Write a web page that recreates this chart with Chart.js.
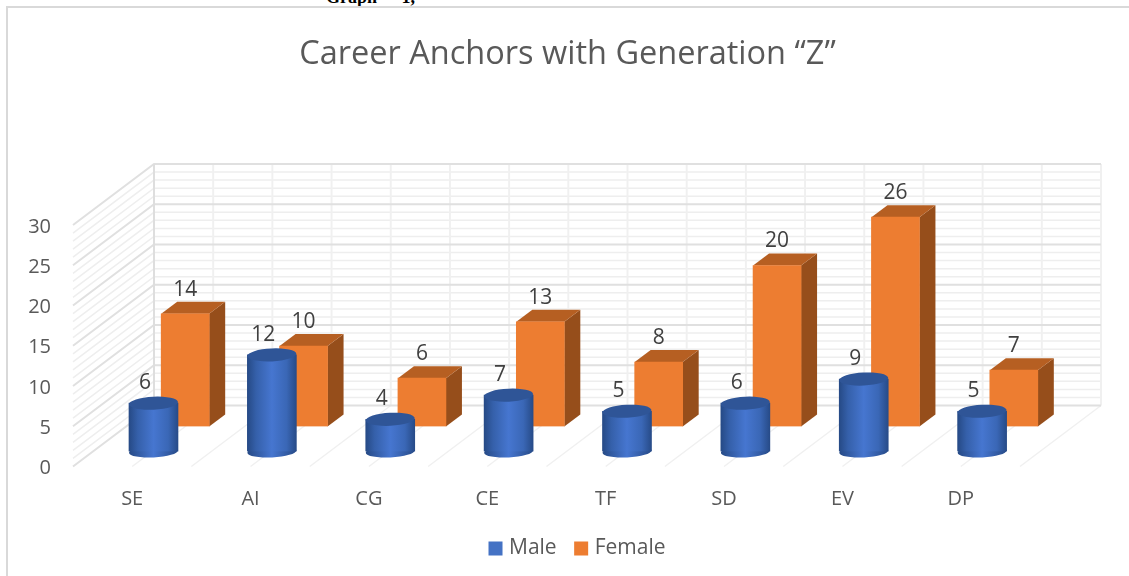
<!DOCTYPE html>
<html>
<head>
<meta charset="utf-8">
<style>
html,body{margin:0;padding:0;background:#fff;overflow:hidden}
#wrap{position:relative;width:1129px;height:576px;overflow:hidden}
#frame{position:absolute;left:6px;top:6px;width:1140px;height:600px;border-left:2px solid #d9d9d9;border-top:2px solid #d9d9d9;box-sizing:border-box;pointer-events:none}
#cap{position:absolute;left:326px;top:-13px;font:bold 18px "Liberation Serif",serif;color:#000;word-spacing:20px}
canvas{position:absolute;left:0;top:0}
</style>
<script src="https://cdn.jsdelivr.net/npm/chart.js@4"></script>
</head>
<body>
<div id="wrap">
<div id="cap">Graph 1,</div>
<div id="frame"></div>
<canvas id="c" width="1129" height="576"></canvas>
</div>
<script>
const categories = ["SE","AI","CG","CE","TF","SD","EV","DP"];
const male = [6,12,4,7,5,6,9,5];
const female = [14,10,6,13,8,20,26,7];
const FONT = '"Open Sans", sans-serif';
const maleColor = '#4472C4', femaleColor = '#ED7D31';

const depthX = 81, depthY = 61;          // wall depth
const femaleShift = {x:53, y:-40};
const maleShift = {x:21.3, y:-15};
const boxD = {x:16, y:12};

const cyl = function(ctx){
  if (ctx.type !== 'data' || !ctx.chart.scales.x) return maleColor;
  const c = ctx.chart.scales.x.getPixelForTick(ctx.dataIndex);
  if (!isFinite(c)) return maleColor;
  const g = ctx.chart.ctx.createLinearGradient(c-24.5,0,c+24.5,0);
  g.addColorStop(0,'#264a86');g.addColorStop(0.18,'#3560aa');
  g.addColorStop(0.5,'#4676d0');g.addColorStop(0.8,'#3a67b6');g.addColorStop(1,'#274b88');
  return g;
};

const scene = {
  id:'scene',
  afterLayout(chart){
    const l = chart.legend, t = chart.titleBlock;
    if(l){l.left += 65; l.right += 65;}
    if(t){t.left += 57.5; t.right += 57.5;}
  },
  beforeDatasetsDraw(chart){
    const {ctx, scales:{x,y}} = chart;
    const L=x.left, R=x.right, B=y.getPixelForValue(0), T=y.getPixelForValue(30);
    ctx.save();
    ctx.lineWidth=1.5; ctx.strokeStyle='#eeeeee';
    for(let v=0;v<=30;v++){
      if(v%5===0) continue;
      const p=y.getPixelForValue(v);
      ctx.beginPath();ctx.moveTo(L,p);ctx.lineTo(L+depthX,p-depthY);ctx.lineTo(R+depthX,p-depthY);ctx.stroke();
    }
    ctx.strokeStyle='#f0f0f0';ctx.lineWidth=2;
    for(let k=0;k<=16;k++){
      const px=L+depthX+(R-L)*k/16;
      ctx.beginPath();ctx.moveTo(px,T-depthY);ctx.lineTo(px,B-depthY);ctx.stroke();
    }
    ctx.strokeStyle='#f0f0f0';ctx.lineWidth=1.5;
    for(let k=1;k<=16;k++){
      const px=L+(R-L)*k/16;
      ctx.beginPath();ctx.moveTo(px,B);ctx.lineTo(px+depthX,B-depthY);ctx.stroke();
    }
    ctx.lineWidth=2;
    for(let v=0;v<=30;v+=5){
      const p=y.getPixelForValue(v);
      ctx.strokeStyle='#e0e0e0';
      ctx.beginPath();ctx.moveTo(L,p);ctx.lineTo(L+depthX,p-depthY);ctx.lineTo(R+depthX,p-depthY);ctx.stroke();
    }
    ctx.strokeStyle='#dedede';
    ctx.beginPath();ctx.moveTo(L+depthX,T-depthY);ctx.lineTo(L+depthX,B-depthY);ctx.stroke();
    ctx.restore();
  },
  beforeDatasetDraw(chart,args){
    const {ctx}=chart;
    const isF = args.index===1;
    const s = isF?femaleShift:maleShift;
    ctx.save();
    ctx.translate(s.x,s.y);
    args.meta.data.forEach(el=>{
      const hw=el.width/2;
      if(isF){
        ctx.fillStyle='#964e1b';
        ctx.beginPath();ctx.moveTo(el.x+hw,el.y);ctx.lineTo(el.x+hw+boxD.x,el.y-boxD.y);
        ctx.lineTo(el.x+hw+boxD.x,el.base-boxD.y);ctx.lineTo(el.x+hw,el.base);ctx.closePath();ctx.fill();
        ctx.fillStyle='#b65f22';
        ctx.beginPath();ctx.moveTo(el.x-hw,el.y);ctx.lineTo(el.x-hw+boxD.x,el.y-boxD.y);
        ctx.lineTo(el.x+hw+boxD.x,el.y-boxD.y);ctx.lineTo(el.x+hw,el.y);ctx.closePath();ctx.fill();
      } else {
        const g=ctx.createLinearGradient(el.x-hw,0,el.x+hw,0);
        g.addColorStop(0,'#264a86');g.addColorStop(0.5,'#4676d0');g.addColorStop(1,'#274b88');
        ctx.fillStyle=g;
        ctx.beginPath();ctx.ellipse(el.x,el.base,hw,6,-0.05,0,Math.PI*2);ctx.fill();
      }
    });
  },
  afterDatasetDraw(chart,args){
    const {ctx}=chart;
    if(args.index===0){
      args.meta.data.forEach(el=>{
        ctx.fillStyle='#2f5597';
        ctx.beginPath();ctx.ellipse(el.x,el.y,el.width/2,6.5,-0.05,0,Math.PI*2);ctx.fill();
      });
    }
    ctx.restore();
  },
  afterDatasetsDraw(chart){
    const {ctx}=chart;
    ctx.save();
    ctx.font='21px '+FONT;ctx.fillStyle='#404040';ctx.textAlign='center';ctx.textBaseline='middle';
    chart.data.datasets.forEach((d,i)=>{
      const m=chart.getDatasetMeta(i);
      const s=i===1?femaleShift:maleShift;
      m.data.forEach((el,j)=>{
        const ox=i===1?0:-8.5, oy=i===1?-24:-20;
        ctx.fillText(String(d.data[j]),el.x+s.x+ox,el.y+s.y+oy);
      });
    });
    // legend swatches sit closer to their text than the library's default gap
    const cols=[maleColor,femaleColor];
    chart.legend.legendHitBoxes.forEach((h,i)=>{
      ctx.fillStyle=cols[i];
      ctx.fillRect(h.left+4,h.top+(h.height-14)/2,14,14);
    });
    ctx.restore();
  }
};

new Chart(document.getElementById('c'),{
  type:'bar',
  data:{labels:categories,datasets:[
    {label:'Male',data:male,backgroundColor:cyl,barThickness:49,borderWidth:0},
    {label:'Female',data:female,backgroundColor:femaleColor,barThickness:48,borderWidth:0}
  ]},
  options:{
    responsive:false,animation:false,
    layout:{padding:{right:109,bottom:7}},
    datasets:{bar:{grouped:false}},
    scales:{
      x:{grid:{display:false},border:{display:false},
        ticks:{color:'#595959',font:{family:FONT,size:20},padding:13,maxRotation:0},
        afterFit(a){a.height=58;}},
      y:{min:0,max:30,grid:{display:false},border:{display:false},
        ticks:{stepSize:5,color:'#595959',font:{family:FONT,size:20},padding:14,labelOffset:2},
        afterFit(a){a.width=73;}}
    },
    plugins:{
      tooltip:{enabled:false},
      title:{display:true,text:'Career Anchors with Generation “Z”',color:'#595959',
        font:{family:FONT,size:32.5,weight:'normal',lineHeight:1.2},
        padding:{top:35,bottom:151}},
      legend:{position:'bottom',
        labels:{color:'#595959',font:{family:FONT,size:21},boxWidth:14,boxHeight:14,padding:13.5,
          generateLabels(chart){
            return Chart.defaults.plugins.legend.labels.generateLabels(chart).map(o=>({...o,fillStyle:'rgba(0,0,0,0)',strokeStyle:'rgba(0,0,0,0)'}));
          }}}
    }
  },
  plugins:[scene]
});
</script>
</body>
</html>
